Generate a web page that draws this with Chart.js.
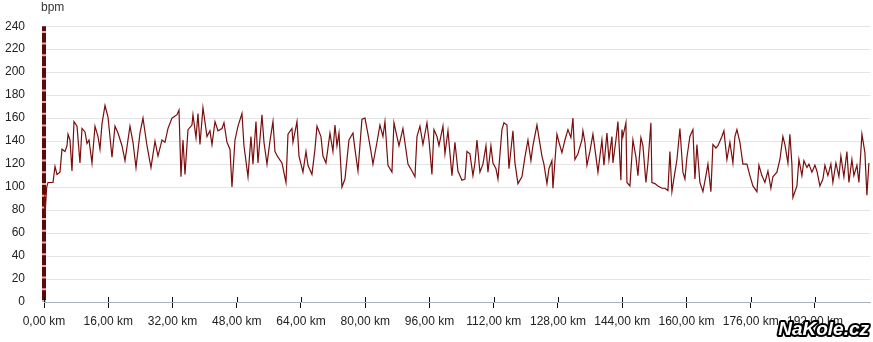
<!DOCTYPE html>
<html>
<head>
<meta charset="utf-8">
<script src="https://cdn.jsdelivr.net/npm/chart.js@4/dist/chart.umd.min.js"></script>
<style>
  html, body { margin: 0; padding: 0; background: #fff; }
  #wrap { width: 873px; height: 342px; position: relative; }
</style>
</head>
<body>
<div id="wrap"><canvas id="hrChart"></canvas></div>
<script>
// distance along the ride (km) and heart rate (bpm)
var distKm = [0.00,0.25,0.67,1.00,2.24,2.74,3.24,3.98,4.48,5.23,5.73,5.98,6.47,6.97,7.47,8.22,8.96,9.46,10.21,10.71,11.21,11.95,12.70,13.45,13.94,14.44,15.19,15.94,16.93,17.68,18.43,19.42,20.17,21.41,22.16,22.91,23.90,24.65,25.65,26.64,27.64,28.39,29.38,30.13,30.88,31.87,33.12,33.62,34.11,34.61,35.11,35.86,36.85,37.10,37.85,38.35,38.84,39.59,40.59,41.33,41.83,42.58,43.33,44.32,44.82,45.57,46.31,46.81,47.56,48.31,49.30,49.80,50.80,51.54,52.04,52.79,53.29,54.28,54.78,55.53,56.27,57.02,57.52,58.27,59.26,60.26,60.76,61.75,62.00,63.00,63.50,64.49,65.24,65.74,66.73,67.48,67.98,68.97,69.47,70.22,71.21,71.96,72.46,72.96,73.46,74.20,74.95,75.95,76.94,77.44,78.19,79.18,79.93,80.68,81.42,81.92,82.92,83.66,84.41,84.91,85.66,86.65,87.15,87.90,88.40,89.39,90.64,91.63,92.38,92.88,93.62,94.37,95.37,95.87,96.61,97.11,97.86,98.36,99.35,99.85,100.60,101.59,102.34,103.09,104.08,104.83,105.33,106.07,106.82,107.32,107.82,108.56,109.31,110.06,110.56,111.30,111.80,112.55,113.05,114.04,114.54,115.29,115.79,116.78,117.28,118.03,119.02,119.77,120.52,121.26,121.76,122.76,123.26,124.00,124.50,125.25,125.75,126.49,126.74,127.74,128.24,128.98,129.73,130.48,131.22,131.72,132.22,132.97,133.96,134.21,134.71,135.21,135.95,136.70,137.20,137.95,138.94,139.44,140.19,140.69,141.43,141.68,142.43,142.93,143.67,143.92,144.17,144.92,145.17,145.91,146.66,147.41,147.91,148.65,149.15,149.90,150.40,151.14,151.39,152.14,152.89,153.88,154.63,155.38,155.87,156.37,157.12,157.62,158.36,159.11,159.61,160.11,160.85,161.60,162.10,162.60,163.34,164.09,164.84,165.34,166.08,166.58,167.33,167.83,168.82,169.32,170.07,170.81,171.56,172.06,172.56,173.30,174.05,175.05,175.79,176.54,177.54,178.04,178.78,179.53,180.28,181.02,181.52,182.52,183.26,184.01,184.51,185.26,185.75,186.25,186.50,187.50,188.00,188.74,189.24,189.99,190.49,191.23,191.98,192.48,193.22,193.97,194.47,195.22,195.96,196.46,197.21,197.96,198.45,199.20,199.95,200.45,201.19,201.69,202.44,202.94,203.69,204.43,204.93,205.43];
var heartRate = [95,76,100,104,104,118,111,113,133,131,136,146,141,114,157,153,121,151,148,138,141,121,153,144,133,155,171,161,126,153,147,136,123,153,139,117,147,160,136,117,140,127,141,139,151,160,163,167,109,141,111,150,154,163,143,164,137,169,144,149,137,157,149,151,156,139,133,100,141,153,164,136,109,144,120,157,121,163,139,120,140,157,131,126,121,104,146,151,139,157,127,113,131,119,111,133,153,144,127,121,147,131,154,136,147,100,107,141,147,133,114,159,160,146,131,120,139,154,144,157,119,113,156,144,136,151,120,114,109,144,153,137,156,141,111,150,144,136,153,129,149,110,139,114,106,107,131,129,110,121,141,113,120,136,113,136,121,116,107,150,156,154,116,149,121,103,109,126,141,123,136,154,143,127,120,103,116,123,99,146,139,130,141,150,143,160,124,129,141,149,139,119,131,146,133,113,141,119,147,124,144,121,141,157,106,150,144,156,104,101,141,126,110,143,136,104,121,156,104,103,101,99,99,97,131,96,113,124,151,113,107,126,144,150,107,137,104,96,110,120,96,137,134,136,144,149,124,139,121,144,150,139,120,120,110,101,96,119,110,104,114,99,109,113,124,144,137,121,146,120,91,101,124,110,123,117,120,113,119,114,101,107,119,110,120,104,121,109,127,109,131,104,124,110,119,104,146,130,93,121];

// position marker at the start of the ride
var markerKm = [0, 0];
var markerBpm = [0, 240];

var xMaxKm = 205.7;
var xStepKm = 16;
var yMax = 240;
var yStep = 20;

var points = distKm.map(function (d, i) { return { x: d, y: heartRate[i] }; });
var marker = markerKm.map(function (d, i) { return { x: d, y: markerBpm[i] }; });

var extras = {
    id: "extras",
    afterDatasetsDraw: function (chart) {
        var ctx = chart.ctx;
        var xs = chart.scales.x;
        var bottom = chart.chartArea.bottom;
        ctx.save();
        // tick marks poke a little above the axis line too
        ctx.strokeStyle = "#111";
        ctx.lineWidth = 1;
        xs.ticks.forEach(function (t) {
            var px = Math.round(xs.getPixelForValue(t.value)) + 0.5;
            ctx.beginPath();
            ctx.moveTo(px, bottom - 5);
            ctx.lineTo(px, bottom);
            ctx.stroke();
        });
        ctx.restore();
    },
    afterDraw: function (chart) {
        var ctx = chart.ctx;
        ctx.save();
        ctx.fillStyle = "#333";
        ctx.font = "12px 'Liberation Sans', Arial, sans-serif";
        ctx.textBaseline = "alphabetic";
        ctx.fillText("bpm", 41, 11);

        ctx.font = "italic bold 19px 'Liberation Sans', Arial, sans-serif";
        ctx.textAlign = "right";
        ctx.lineJoin = "round";
        ctx.lineWidth = 4;
        ctx.strokeStyle = "#000";
        ctx.strokeText("NaKole.cz", 869, 335);
        ctx.fillStyle = "#fff";
        ctx.fillText("NaKole.cz", 869, 335);
        ctx.restore();
    }
};

new Chart(document.getElementById("hrChart"), {
    type: "line",
    data: {
        datasets: [{
            data: points,
            borderColor: "#7a0d0d",
            borderWidth: 1.2,
            pointRadius: 0,
            tension: 0,
            fill: false,
            order: 1
        }, {
            data: marker,
            borderColor: "#5c0a0a",
            borderWidth: 4,
            pointRadius: 0,
            clip: false,
            order: 3
        }, {
            data: marker,
            borderColor: "#f2a6a6",
            borderWidth: 4,
            borderDash: [2, 9.7],
            pointRadius: 0,
            clip: false,
            order: 2
        }]
    },
    options: {
        responsive: true,
        maintainAspectRatio: false,
        animation: false,
        layout: { padding: { top: 21, right: 3, left: 0, bottom: 0 } },
        plugins: {
            legend: { display: false },
            tooltip: { enabled: false }
        },
        scales: {
            x: {
                type: "linear",
                min: 0,
                max: xMaxKm,
                afterFit: function (scale) { scale.height = 40; },
                border: { display: true, color: "#a9b3bd", width: 1 },
                grid: {
                    drawOnChartArea: false,
                    drawTicks: true,
                    tickLength: 6,
                    tickColor: "#111"
                },
                ticks: {
                    stepSize: xStepKm,
                    includeBounds: false,
                    maxRotation: 0,
                    autoSkip: false,
                    padding: 6,
                    color: "#222",
                    font: { family: "'Liberation Sans', Arial, sans-serif", size: 12 },
                    callback: function (v) { return v.toFixed(2).replace(".", ",") + " km"; }
                }
            },
            y: {
                min: 0,
                max: yMax,
                afterFit: function (scale) { scale.width = 44; },
                border: { display: false },
                grid: { color: "#e4e4e4", drawTicks: false },
                ticks: {
                    stepSize: yStep,
                    padding: 19,
                    color: "#222",
                    font: { family: "'Liberation Sans', Arial, sans-serif", size: 12 }
                }
            }
        }
    },
    plugins: [extras]
});
</script>
</body>
</html>
